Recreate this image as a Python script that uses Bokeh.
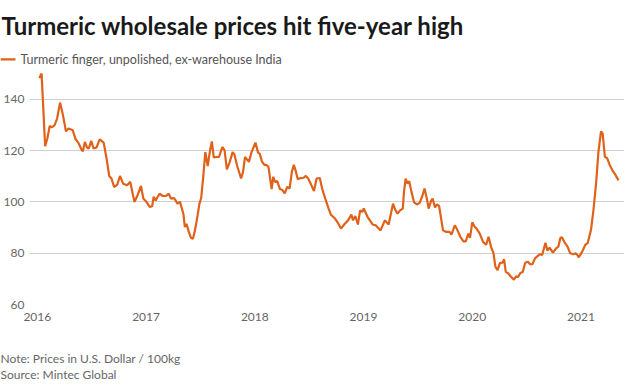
from bokeh.plotting import figure
from bokeh.layouts import column
from bokeh.models import BoxAnnotation, ColumnDataSource, FixedTicker, Label, Range1d
from bokeh.embed import file_html
from bokeh.resources import INLINE

title_text = "Turmeric wholesale prices hit five-year high"
series_name = "Turmeric finger, unpolished, ex-warehouse India"
note_text = "Note: Prices in U.S. Dollar / 100kg"
source_text = "Source: Mintec Global"
year_ticks = [2016, 2017, 2018, 2019, 2020, 2021]
price_ticks = [60, 80, 100, 120, 140]

# decimal years
dates = [
    2016.018, 2016.039, 2016.072, 2016.092, 2016.114, 2016.132, 2016.159, 2016.182,
    2016.209, 2016.236, 2016.263, 2016.287, 2016.326, 2016.352, 2016.377, 2016.406,
    2016.419, 2016.437, 2016.457, 2016.473, 2016.496, 2016.517, 2016.544, 2016.574,
    2016.610, 2016.637, 2016.661, 2016.682, 2016.706, 2016.735, 2016.760, 2016.789,
    2016.825, 2016.855, 2016.879, 2016.894, 2016.924, 2016.953, 2016.975, 2017.004,
    2017.034, 2017.056, 2017.070, 2017.088, 2017.124, 2017.154, 2017.184, 2017.208,
    2017.229, 2017.258, 2017.289, 2017.312, 2017.343, 2017.357, 2017.372, 2017.393,
    2017.414, 2017.432, 2017.453, 2017.474, 2017.491, 2017.507, 2017.527, 2017.545,
    2017.567, 2017.587, 2017.605, 2017.623, 2017.648, 2017.671, 2017.701, 2017.722,
    2017.743, 2017.767, 2017.796, 2017.812, 2017.841, 2017.874, 2017.892, 2017.910,
    2017.946, 2017.970, 2018.006, 2018.030, 2018.045, 2018.065, 2018.090, 2018.105,
    2018.126, 2018.141, 2018.155, 2018.170, 2018.186, 2018.206, 2018.231, 2018.254,
    2018.275, 2018.299, 2018.320, 2018.341, 2018.359, 2018.379, 2018.395, 2018.424,
    2018.448, 2018.469, 2018.491, 2018.514, 2018.544, 2018.568, 2018.598, 2018.619,
    2018.648, 2018.679, 2018.700, 2018.738, 2018.769, 2018.792, 2018.828, 2018.858,
    2018.888, 2018.903, 2018.924, 2018.948, 2018.969, 2018.987, 2019.002, 2019.038,
    2019.083, 2019.112, 2019.133, 2019.157, 2019.196, 2019.231, 2019.271, 2019.291,
    2019.312, 2019.336, 2019.361, 2019.372, 2019.387, 2019.405, 2019.420, 2019.441,
    2019.465, 2019.491, 2019.516, 2019.540, 2019.561, 2019.581, 2019.599, 2019.621,
    2019.635, 2019.657, 2019.674, 2019.695, 2019.731, 2019.761, 2019.791, 2019.809,
    2019.839, 2019.859, 2019.890, 2019.919, 2019.940, 2019.964, 2019.979, 2020.000,
    2020.024, 2020.039, 2020.069, 2020.099, 2020.128, 2020.150, 2020.173, 2020.195,
    2020.213, 2020.233, 2020.254, 2020.278, 2020.293, 2020.308, 2020.332, 2020.352,
    2020.383, 2020.404, 2020.422, 2020.442, 2020.464, 2020.487, 2020.511, 2020.532,
    2020.553, 2020.577, 2020.601, 2020.622, 2020.643, 2020.673, 2020.691, 2020.711,
    2020.742, 2020.771, 2020.792, 2020.810, 2020.825, 2020.852, 2020.876, 2020.900,
    2020.930, 2020.951, 2020.966, 2020.980, 2021.011, 2021.040, 2021.061, 2021.092,
    2021.115, 2021.139, 2021.160, 2021.184, 2021.199, 2021.220, 2021.240, 2021.265,
    2021.289, 2021.316, 2021.345,
]

# U.S. dollar / 100 kg
prices = [
    148.3, 150.0, 121.7, 124.7, 129.6, 129.0, 129.9, 132.5,
    138.7, 133.8, 127.5, 128.6, 127.9, 124.4, 123.1, 120.4,
    119.7, 123.4, 121.2, 120.8, 123.8, 120.8, 121.2, 124.4,
    123.1, 116.9, 110.1, 109.1, 105.8, 106.7, 110.1, 107.1,
    106.5, 107.8, 102.8, 100.0, 102.8, 106.2, 101.3, 100.0,
    98.0, 98.3, 102.0, 100.6, 103.2, 102.3, 102.3, 103.2,
    101.3, 101.5, 99.3, 100.0, 95.4, 90.2, 91.5, 88.3,
    85.9, 85.7, 89.6, 94.8, 99.3, 101.5, 110.3, 119.4,
    114.0, 119.7, 123.6, 117.3, 117.5, 117.5, 121.4, 120.1,
    112.7, 115.2, 119.4, 118.5, 113.6, 109.1, 111.7, 117.5,
    115.6, 119.4, 123.1, 119.2, 118.8, 115.8, 114.3, 114.5,
    113.6, 109.1, 105.0, 109.8, 107.8, 108.1, 105.0, 104.6,
    103.3, 105.9, 105.2, 111.7, 114.5, 111.7, 108.8, 109.3,
    109.4, 110.1, 109.1, 107.1, 104.2, 109.1, 109.3, 105.2,
    101.3, 97.4, 95.0, 93.5, 91.5, 89.6, 91.5, 92.8,
    95.1, 92.8, 94.5, 91.2, 96.7, 96.1, 97.4, 94.1,
    91.2, 90.9, 89.9, 88.9, 92.8, 91.2, 99.3, 97.0,
    95.4, 96.7, 97.4, 103.9, 109.1, 107.1, 108.1, 103.9,
    99.8, 99.0, 99.6, 102.2, 105.2, 101.5, 97.4, 100.4,
    101.3, 97.8, 99.0, 98.4, 88.9, 88.3, 88.3, 87.2,
    90.9, 89.4, 86.4, 84.6, 84.6, 87.6, 86.0, 92.0,
    90.2, 89.6, 87.6, 84.4, 83.3, 86.4, 82.4, 80.0,
    74.7, 73.4, 76.1, 76.3, 77.6, 72.7, 72.1, 71.0,
    69.7, 71.0, 70.7, 72.3, 72.7, 76.3, 76.7, 75.7,
    75.7, 78.0, 78.9, 79.6, 79.3, 84.1, 81.0, 82.2,
    80.2, 81.9, 82.6, 85.9, 86.2, 84.0, 82.6, 80.0,
    79.6, 80.0, 79.3, 78.4, 80.6, 83.3, 83.9, 89.1,
    97.0, 107.4, 119.4, 127.5, 126.6, 117.5, 117.1, 114.3,
    112.3, 110.6, 108.4,
]

FONT = "Lato"
ORANGE = "#e0611a"
TEXT_GREY = "#666666"
W = 624

src = ColumnDataSource(data=dict(date=dates, price=prices))


def blank(height):
    f = figure(width=W, height=height, x_range=Range1d(0, 1), y_range=Range1d(0, 1),
               x_axis_type=None, y_axis_type=None, output_backend="svg",
               toolbar_location=None, min_border=0)
    f.outline_line_color = None
    f.grid.visible = False
    # do not line this text-only frame up with the chart frame below it
    if "frame_align" in f.properties():
        f.frame_align = False
    return f


# ---- header: headline + series key
head = blank(68)
head.add_layout(Label(
    x=1, y=43, x_units="screen", y_units="screen", text=title_text,
    text_font=FONT, text_font_style="bold", text_font_size="24px",
    text_color="#1a1a1a", text_baseline="alphabetic",
))
head.add_layout(BoxAnnotation(
    left=0, right=15, bottom=8, top=10.2,
    left_units="screen", right_units="screen", bottom_units="screen", top_units="screen",
    fill_color=ORANGE, fill_alpha=1.0, line_color=None,
))
head.add_layout(Label(
    x=20, y=9, x_units="screen", y_units="screen", text=series_name,
    text_font=FONT, text_font_size="12.5px", text_color="#555555",
    text_baseline="middle",
))

# ---- main chart
p = figure(
    width=W, height=262,
    x_range=Range1d(2015.928, 2021.40),
    y_range=Range1d(60, 152),
    output_backend="svg", toolbar_location=None,
    min_border_left=25, min_border_right=0,
    min_border_top=0, min_border_bottom=26,
)
p.outline_line_color = None

p.line(x="date", y="price", source=src, line_color=ORANGE, line_width=2.2,
       legend_label=series_name)
p.legend.visible = False

for ax in (p.xaxis[0], p.yaxis[0]):
    ax.axis_line_color = None
    ax.major_tick_line_color = None
    ax.minor_tick_line_color = None
    ax.major_tick_out = 0
    ax.major_tick_in = 0
    ax.minor_tick_out = 0
    ax.minor_tick_in = 0
    ax.major_label_text_font = FONT
    ax.major_label_text_font_size = "12px"
    ax.major_label_text_color = TEXT_GREY

p.xaxis.ticker = FixedTicker(ticks=year_ticks)
p.xaxis.major_label_overrides = {y: str(y) for y in year_ticks}
p.xaxis.major_label_standoff = 8
p.yaxis.ticker = FixedTicker(ticks=price_ticks)
p.yaxis.major_label_overrides = {v: str(v) for v in price_ticks}
p.yaxis.major_label_standoff = 5

p.xgrid.grid_line_color = None
p.ygrid.grid_line_color = "#d0d0d0"
p.ygrid.grid_line_width = 1

# ---- footer: note and source
foot = blank(53)
foot.add_layout(Label(
    x=0, y=25, x_units="screen", y_units="screen", text=note_text,
    text_font=FONT, text_font_size="12px", text_color=TEXT_GREY,
    text_baseline="middle",
))
foot.add_layout(Label(
    x=0, y=9, x_units="screen", y_units="screen", text=source_text,
    text_font=FONT, text_font_size="12px", text_color=TEXT_GREY,
    text_baseline="middle",
))

layout = column(head, p, foot, spacing=0)
open("out.html", "w").write(file_html(layout, INLINE))
